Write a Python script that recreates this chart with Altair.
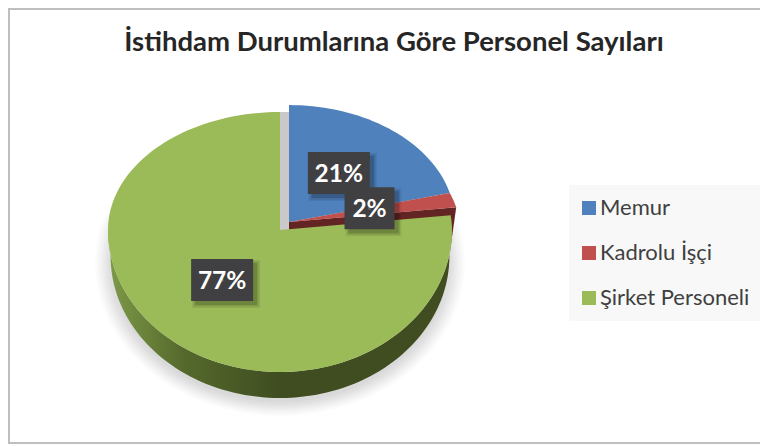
import math
import altair as alt
import pandas as pd

categories = ["Memur", "Kadrolu İşçi", "Şirket Personeli"]
values = [21, 2, 77]
labels = ["21%", "2%", "77%"]
colors = ["#4f81bd", "#c0504d", "#9bbb59"]

TITLE = "İstihdam Durumlarına Göre Personel Sayıları"
FONT = "Lato"
W, H = 752, 436

# style / geometry constants for the tilted pie
explode_dx, explode_dy, rx_b, ry_b = 9 / 172, 8 / 118, 0.965, 0.991
rx_r = 0.98
depth = 26 / 142

x_scale = alt.Scale(domain=[-1, 0, 1], range=[100, 272, 444], nice=False, zero=False)
y_scale = alt.Scale(domain=[-1, 0, 1], range=[364, 222, 104], nice=False, zero=False)
X = alt.X("x:Q", scale=x_scale, axis=None)
Y = alt.Y("y:Q", scale=y_scale, axis=None)


def arc(a0, a1, rx=1.0, ry=1.0, dx=0.0, dy=0.0, n=None):
    n = n or max(2, int(abs(a1 - a0) / 2))
    pts = []
    for i in range(n + 1):
        a = math.radians(a0 + (a1 - a0) * i / n)
        pts.append((dx + rx * math.sin(a), dy + ry * math.cos(a)))
    return pts


def poly(pts, **extra):
    return pd.DataFrame([dict(x=p[0], y=p[1], o=i, **extra) for i, p in enumerate(pts)])


def shape(pts, fill, opacity=1.0):
    return alt.Chart(poly(pts)).mark_line(fill=fill, stroke=None, strokeWidth=0, opacity=opacity, interpolate="linear").encode(
        x=X, y=Y, order="o:Q"
    )


total = sum(values)
start, spans = [], []
c = 0
for v in values:
    start.append(c * 3.6 * 100 / total)
    spans.append(v * 3.6 * 100 / total)
    c += v

a_red1 = start[1] + spans[1]

layers = []

# frame lines
frame = "#bfbfbf"
layers.append(alt.Chart(pd.DataFrame({"k": [0]})).mark_rule(color=frame, strokeWidth=2).encode(
    x=alt.value(1), y=alt.value(0), y2=alt.value(436)))
layers.append(alt.Chart(pd.DataFrame({"k": [0]})).mark_rule(color=frame, strokeWidth=2).encode(
    x=alt.value(0), x2=alt.value(752), y=alt.value(435)))
layers.append(alt.Chart(pd.DataFrame({"k": [0]})).mark_rule(color=frame, strokeWidth=2).encode(
    x=alt.value(0), x2=alt.value(752), y=alt.value(1)))

# soft shadow under the pie
for grow, op in [(-0.02, 0.025), (0.0, 0.025), (0.015, 0.025), (0.03, 0.025), (0.045, 0.02), (0.06, 0.02), (0.075, 0.015)]:
    layers.append(shape(arc(0, 360, 1.0 + grow, 1.0 + grow, 0, -depth - 0.05), "#000000", op))

# green wall
outer = arc(90, 270, 0.985, 1.0, 0, -depth)
face = arc(270, 90, 1.0, 1.0)
grad = alt.Gradient(
    gradient="linear", x1=0, y1=0, x2=1, y2=0,
    stops=[
        alt.GradientStop(color="#7d9a48", offset=0.0),
        alt.GradientStop(color="#55692c", offset=0.22),
        alt.GradientStop(color="#3f4d20", offset=0.5),
        alt.GradientStop(color="#3f4d20", offset=1.0),
    ],
)
layers.append(shape(outer + face, grad))

# red wall: visible strip below its lower edge
red_end = arc(a_red1, a_red1, rx_r, ry_b, explode_dx, explode_dy, n=1)[0]
red_wall = [
    (explode_dx, explode_dy),
    red_end,
    (red_end[0] - 0.024, red_end[1] - depth * 1.3),
    (explode_dx, explode_dy - depth),
]
layers.append(shape(red_wall, "#632523"))

# grey gap between the exploded slices
gap = [(0, 1), (0, -0.02), (explode_dx, -0.02), (explode_dx, 1)]
layers.append(shape(gap, "#c9c9c9"))

# top faces, with the legend built from them
color_scale = alt.Scale(domain=categories, range=colors)
legend = alt.Legend(
    title=None, orient="none", legendX=561, legendY=177,
    symbolType="square", symbolSize=196, symbolStrokeWidth=0,
    labelFont=FONT, labelFontSize=22, labelColor="#404040", labelLimit=220,
    rowPadding=23, fillColor="#f8f8f8", padding=12, symbolOffset=-3, labelOffset=0,
)
rows = []
for i, cat in enumerate(categories):
    if i == 0:
        pts = [(explode_dx, explode_dy)] + arc(start[i], start[i] + spans[i], rx_b, ry_b, explode_dx, explode_dy)
    elif i == 1:
        a0 = start[i]
        a1 = start[i] + spans[i]
        pts = [(explode_dx, explode_dy)] + [
            (explode_dx + (rx_b + (rx_r - rx_b) * k / 6) * math.sin(math.radians(a0 + (a1 - a0) * k / 6)),
             explode_dy + ry_b * math.cos(math.radians(a0 + (a1 - a0) * k / 6)))
            for k in range(7)
        ]
    else:
        pts = [(0, 0)] + arc(start[i], start[i] + spans[i])
    rows.append(poly(pts, cat=cat))
for i, cat in enumerate(categories):
    layers.append(
        alt.Chart(rows[i]).mark_line(stroke=None, strokeWidth=0, interpolate="linear").encode(
            x=X, y=Y, order="o:Q",
            fill=alt.Fill("cat:N", scale=color_scale, sort=categories, legend=legend),
        )
    )

# data labels at half radius along each slice's middle angle
for i, lab in enumerate(labels):
    mid = math.radians(start[i] + spans[i] / 2)
    if i < 2:
        lx, ly = explode_dx + 0.5 * rx_b * math.sin(mid), explode_dy + 0.5 * ry_b * math.cos(mid)
    else:
        lx, ly = 0.5 * math.sin(mid), 0.5 * math.cos(mid)
    lx -= 1 / 172
    ly += 3 / 130
    w = 50 if lab == "2%" else 62
    d = pd.DataFrame({"x": [lx], "y": [ly], "t": [lab]})
    base = alt.Chart(d).encode(x=X, y=Y)
    for grow, op in [(6, 0.07), (3, 0.1), (0, 0.14)]:
        layers.append(base.mark_rect(width=w + grow, height=42 + grow, color="#000000", opacity=op, xOffset=4, yOffset=4))
    layers.append(base.mark_rect(width=w, height=42, color="#404042"))
    dots = pd.DataFrame(
        [
            {"x": lx, "y": ly, "dx": ox - (w - 6) / 2, "dy": oy - 16}
            for ox in range(0, w - 4, 10)
            for oy in range(0, 37, 10)
        ]
    )
    layers.append(
        alt.Chart(dots).mark_circle(size=6, color="#606062", opacity=0.8).encode(
            x=X, y=Y,
            xOffset=alt.XOffset("dx:Q", scale=None),
            yOffset=alt.YOffset("dy:Q", scale=None),
        )
    )
    layers.append(
        base.mark_text(font=FONT, fontSize=24.5, fontWeight="bold", color="#ffffff", align="center", baseline="middle", dy=2).encode(text="t:N")
    )

chart = (
    alt.layer(*layers)
    .properties(
        width=W, height=H, padding=0,
        autosize=alt.AutoSizeParams(type="none"),
        background="#ffffff",
        title=alt.TitleParams(
            TITLE, font=FONT, fontSize=27.5, fontWeight="bold", color="#262626",
            anchor="middle", frame="group", dx=10, offset=-49,
        ),
    )
    .resolve_scale(fill="shared")
    .configure_view(strokeWidth=0)
)
chart.save("out.html", embed_options={"renderer": "svg", "actions": False})
